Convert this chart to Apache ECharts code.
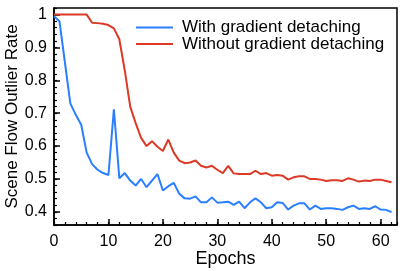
<!DOCTYPE html>
<html><head><meta charset="utf-8">
<script src="https://cdn.jsdelivr.net/npm/echarts@6/dist/echarts.min.js"></script>
<style>html,body{margin:0;padding:0;background:#fff}#c{width:407px;height:271px}</style>
</head><body><div id="c"></div>
<script>
const epochs = Array.from({length: 63}, (_, i) => i);
const withDetach = [0.995,0.98,0.855,0.73,0.695,0.665,0.58,0.545,0.528,0.518,0.512,0.712,0.502,0.518,0.495,0.48,0.50,0.475,0.495,0.515,0.465,0.478,0.488,0.455,0.441,0.44,0.447,0.429,0.429,0.444,0.428,0.429,0.431,0.421,0.431,0.411,0.429,0.441,0.429,0.411,0.414,0.429,0.427,0.407,0.419,0.426,0.426,0.407,0.419,0.409,0.411,0.411,0.409,0.406,0.414,0.419,0.409,0.411,0.409,0.417,0.407,0.406,0.399];
const withoutDetach = [1,1,1,1,1,1,1,0.975,0.974,0.972,0.968,0.958,0.925,0.83,0.72,0.67,0.625,0.60,0.615,0.598,0.585,0.62,0.58,0.556,0.548,0.55,0.556,0.54,0.535,0.54,0.528,0.518,0.54,0.517,0.515,0.515,0.515,0.525,0.515,0.518,0.51,0.512,0.51,0.498,0.505,0.508,0.508,0.5,0.5,0.498,0.494,0.496,0.496,0.494,0.502,0.498,0.492,0.495,0.494,0.498,0.498,0.494,0.49];
const xTicks = [0,10,20,30,40,50,60];
const yTicks = [0.4,0.5,0.6,0.7,0.8,0.9,1];
const seriesNames = ['With gradient detaching','Without gradient detaching'];

const FONT = 'Liberation Sans';
const chart = echarts.init(document.getElementById('c'));
const xBase = {type:'value', min:0, max:63, splitLine:{show:false}};
const yBase = {type:'value', min:0.36, max:1.02, splitLine:{show:false}};
chart.setOption({
  animation:false,
  grid:{left:54,right:10,top:8,bottom:46,show:true,borderColor:'#000',borderWidth:1.5,
        containLabel:false, outerBoundsMode:'none'},
  legend:[
    {data:[seriesNames[0]], left:131, top:14, icon:'rect', itemWidth:37, itemHeight:2,
     textStyle:{fontFamily:FONT,fontSize:17,color:'#000',padding:[0,0,0,4]}},
    {data:[seriesNames[1]], left:131, top:30.5, icon:'rect', itemWidth:37, itemHeight:2,
     textStyle:{fontFamily:FONT,fontSize:17,color:'#000',padding:[0,0,0,4]}}
  ],
  xAxis:[
    Object.assign({}, xBase, {interval:2, axisLine:{lineStyle:{color:'#000',width:1.5}},
      axisTick:{inside:true,length:3,lineStyle:{color:'#000',width:1.2}}, axisLabel:{show:false},
      name:'Epochs', nameLocation:'middle', nameGap:25,
      nameTextStyle:{fontFamily:FONT,fontSize:18,color:'#000'}}),
    Object.assign({}, xBase, {position:'bottom', axisLine:{show:false},
      axisTick:{inside:true,length:6,customValues:xTicks,lineStyle:{color:'#000',width:1.5}},
      axisLabel:{customValues:xTicks,fontFamily:FONT,fontSize:16,color:'#000',margin:9}})
  ],
  yAxis:[
    Object.assign({}, yBase, {interval:0.02, axisLine:{show:true,lineStyle:{color:'#000',width:1.5}},
      axisTick:{inside:true,length:3,lineStyle:{color:'#000',width:1.2}}, axisLabel:{show:false},
      name:'Scene Flow Outlier Rate', nameLocation:'middle', nameGap:33,
      nameTextStyle:{fontFamily:FONT,fontSize:17,color:'#000'}}),
    Object.assign({}, yBase, {position:'left', axisLine:{show:false},
      axisTick:{inside:true,length:6,customValues:yTicks,lineStyle:{color:'#000',width:1.5}},
      axisLabel:{customValues:yTicks,fontFamily:FONT,fontSize:16,color:'#000',margin:7}})
  ],
  series:[
    {name:seriesNames[0], type:'line', showSymbol:false, color:'#2a7fff',
     lineStyle:{width:2,color:'#2a7fff'}, data:epochs.map((e,i)=>[e,withDetach[i]])},
    {name:seriesNames[1], type:'line', showSymbol:false, color:'#dc3a26',
     lineStyle:{width:2,color:'#dc3a26'}, data:epochs.map((e,i)=>[e,withoutDetach[i]])}
  ]
});
</script></body></html>
